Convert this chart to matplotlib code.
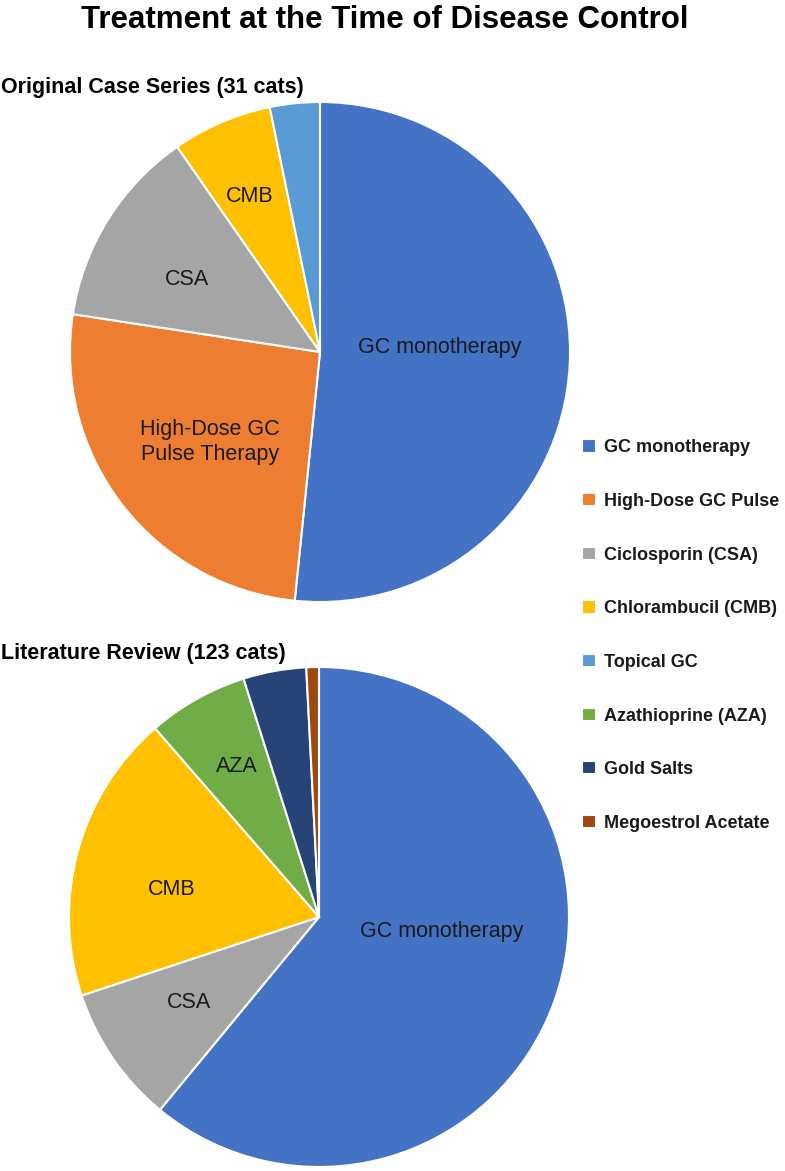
import matplotlib
matplotlib.use("Agg")
import matplotlib.pyplot as plt

plt.rcParams['font.family'] = ['Liberation Sans', 'Arial', 'DejaVu Sans']

# original case series (31 cats)
orig_names = ["GC monotherapy", "High-Dose GC Pulse", "Ciclosporin (CSA)",
              "Chlorambucil (CMB)", "Topical GC"]
orig_counts = [16, 8, 4, 2, 1]
orig_labels = ["GC monotherapy", "High-Dose GC\nPulse Therapy", "CSA", "CMB", ""]

# literature review (123 cats)
lit_names = ["GC monotherapy", "Ciclosporin (CSA)", "Chlorambucil (CMB)",
             "Azathioprine (AZA)", "Gold Salts", "Megoestrol Acetate"]
lit_counts = [75, 11, 23, 8, 5, 1]
lit_labels = ["GC monotherapy", "CSA", "CMB", "AZA", "", ""]

colors = {
    "GC monotherapy": "#4472C4",
    "High-Dose GC Pulse": "#ED7D31",
    "Ciclosporin (CSA)": "#A5A5A5",
    "Chlorambucil (CMB)": "#FFC000",
    "Topical GC": "#5B9BD5",
    "Azathioprine (AZA)": "#70AD47",
    "Gold Salts": "#264478",
    "Megoestrol Acetate": "#9E480E",
}
legend_order = ["GC monotherapy", "High-Dose GC Pulse", "Ciclosporin (CSA)",
                "Chlorambucil (CMB)", "Topical GC", "Azathioprine (AZA)",
                "Gold Salts", "Megoestrol Acetate"]

W, H = 785, 1171
fig = plt.figure(figsize=(W / 100, H / 100), dpi=100)


def px_axes(cx, cy, r):
    return fig.add_axes([(cx - r) / W, (H - cy - r) / H, 2 * r / W, 2 * r / H])


def draw_pie(ax, names, counts, labels, label_pos):
    wedges, _ = ax.pie(counts, colors=[colors[n] for n in names],
                       startangle=90, counterclock=False, radius=1,
                       wedgeprops=dict(edgecolor="white", linewidth=1.5))
    for lab, (x, y) in zip(labels, label_pos):
        if lab:
            ax.text(x, y, lab, ha="center", va="center", fontsize=15.5,
                    color="#1a1a1a", linespacing=1.25)
    ax.set_xlim(-1.0, 1.0)
    ax.set_ylim(-1.0, 1.0)
    ax.set_aspect("equal")
    ax.axis("off")
    return wedges


ax1 = px_axes(320, 352, 250)
w1 = draw_pie(ax1, orig_names, orig_counts, orig_labels,
              [(0.48, 0.02), (-0.44, -0.36), (-0.53, 0.29), (-0.28, 0.62), (0, 0)])

ax2 = px_axes(319, 917, 250)
w2 = draw_pie(ax2, lit_names, lit_counts, lit_labels,
              [(0.49, -0.06), (-0.52, -0.34), (-0.59, 0.11), (-0.33, 0.6), (0, 0), (0, 0)])

handles = {}
for n, w in zip(orig_names, w1):
    handles[n] = w
for n, w in zip(lit_names, w2):
    handles.setdefault(n, w)

fig.text(0.49, 1 - 20 / H, "Treatment at the Time of Disease Control",
         ha="center", va="center", fontsize=22.5, fontweight="bold")
fig.text(1 / W, 1 - 88 / H, "Original Case Series (31 cats)",
         ha="left", va="center", fontsize=15.5, fontweight="bold")
fig.text(1 / W, 1 - 654 / H, "Literature Review (123 cats)",
         ha="left", va="center", fontsize=15.5, fontweight="bold")

leg = fig.legend([handles[n] for n in legend_order], legend_order,
                 loc="upper left", bbox_to_anchor=(566 / W, 1 - 423 / H),
                 frameon=False, fontsize=13, handlelength=0.75,
                 handleheight=0.75, handletextpad=0.45, labelspacing=2.03)
for t in leg.get_texts():
    t.set_fontweight("bold")
    t.set_color("#1a1a1a")

fig.savefig("out.png", dpi=100)
